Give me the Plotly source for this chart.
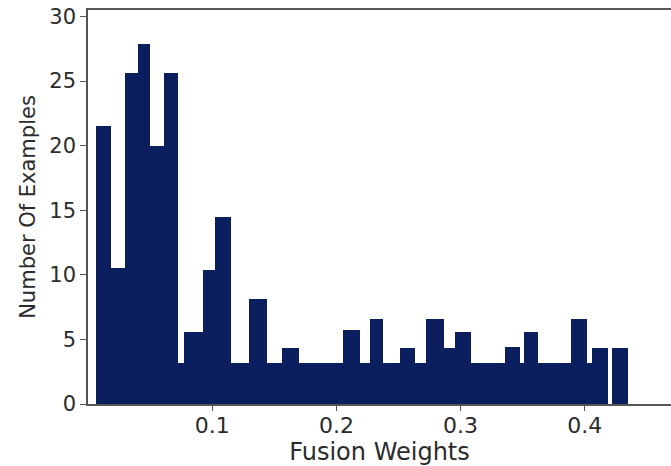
import plotly.graph_objects as go

# Histogram bin edges (Fusion Weights) and counts
bin_edges = [0.0068, 0.0187, 0.0298, 0.0406, 0.0503, 0.0610, 0.0724, 0.0776,
             0.0924, 0.1020, 0.1155, 0.1294, 0.1442, 0.1562, 0.1696, 0.2053,
             0.2187, 0.2273, 0.2375, 0.2514, 0.2635, 0.2723, 0.2868, 0.2951,
             0.3085, 0.3359, 0.3480, 0.3512, 0.3627, 0.3887, 0.4021, 0.4056,
             0.4185, 0.4217, 0.4346]
counts = [21.5, 10.5, 25.6, 27.9, 20.0, 25.6, 3.15, 5.6,
          10.4, 14.5, 3.15, 8.1, 3.15, 4.3, 3.15, 5.7,
          3.15, 6.6, 3.15, 4.3, 3.15, 6.6, 4.3, 5.55,
          3.15, 4.4, 3.15, 5.55, 3.15, 6.6, 3.15, 4.3,
          0.0, 4.3]
x_ticks = [0.1, 0.2, 0.3, 0.4]
x_tick_labels = ["0.1", "0.2", "0.3", "0.4"]
y_ticks = [0, 5, 10, 15, 20, 25, 30]

lefts = bin_edges[:-1]
widths = [b - a for a, b in zip(bin_edges[:-1], bin_edges[1:])]

fig = go.Figure(go.Bar(
    x=lefts, y=counts, width=widths, offset=0,
    marker=dict(color="#0b1f5e", line=dict(width=0)),
    showlegend=False,
))

font_family = "DejaVu Sans"
axis_col = "#555555"
txt_col = "#2b2b2b"

fig.update_layout(
    width=671, height=466,
    margin=dict(l=88, r=0, t=10, b=62),
    paper_bgcolor="white", plot_bgcolor="white",
    bargap=0,
    font=dict(family=font_family, color=txt_col, size=20),
    xaxis=dict(
        range=[0, 0.4694], tickvals=x_ticks, ticktext=x_tick_labels,
        showgrid=False, zeroline=False,
        showline=True, mirror=True, linecolor=axis_col, linewidth=1.5,
        ticks="outside", ticklen=5, tickcolor=axis_col, tickwidth=1.2,
        ticklabelstandoff=-4,
        tickfont=dict(size=22, family=font_family, color=txt_col),
        title=dict(text="Fusion Weights", font=dict(size=24, family=font_family, color=txt_col), standoff=0),
    ),
    yaxis=dict(
        range=[0, 30.5], tickvals=y_ticks,
        showgrid=False, zeroline=False,
        showline=True, linecolor=axis_col, linewidth=1.5,
        ticks="outside", ticklen=6, tickcolor=axis_col, tickwidth=1.2,
        tickfont=dict(size=21, family=font_family, color=txt_col),
        title=dict(text="Number Of Examples", font=dict(size=21, family=font_family, color=txt_col), standoff=8),
    ),
)

fig.write_html("out.html")
